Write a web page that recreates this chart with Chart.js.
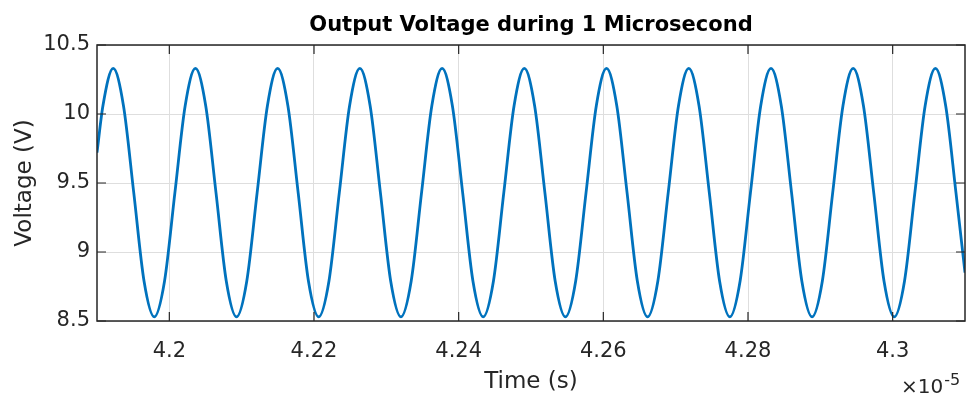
<!DOCTYPE html>
<html>
<head>
<meta charset="utf-8">
<title>Output Voltage</title>
<script src="https://cdn.jsdelivr.net/npm/chart.js@4"></script>
<style>
  html, body { margin: 0; padding: 0; background: #fff; }
  #wrap { width: 977px; height: 403px; }
</style>
</head>
<body>
<div id="wrap"><canvas id="voltChart" width="977" height="403"></canvas></div>
<script>
// time axis in units of 1e-5 s, samples every 1/8 of a period
const timeE5 = [
  4.19, 4.19082,
  4.19224, 4.19366, 4.19508, 4.19650, 4.19792, 4.19934, 4.20077, 4.20219,
  4.20361, 4.20503, 4.20645, 4.20787, 4.20929, 4.21071, 4.21214, 4.21356,
  4.21497, 4.21639, 4.21781, 4.21923, 4.22065, 4.22207, 4.22350, 4.22492,
  4.22634, 4.22776, 4.22918, 4.23060, 4.23202, 4.23344, 4.23487, 4.23629,
  4.23771, 4.23913, 4.24055, 4.24197, 4.24339, 4.24481, 4.24624, 4.24766,
  4.24908, 4.25050, 4.25192, 4.25334, 4.25476, 4.25618, 4.25761, 4.25903,
  4.26044, 4.26186, 4.26328, 4.26470, 4.26612, 4.26754, 4.26897, 4.27039,
  4.27181, 4.27323, 4.27465, 4.27607, 4.27749, 4.27891, 4.28034, 4.28176,
  4.28318, 4.28460, 4.28602, 4.28744, 4.28886, 4.29028, 4.29171, 4.29313,
  4.29454, 4.29596, 4.29738, 4.29880, 4.30022, 4.30164, 4.30307, 4.30449,
  4.30591, 4.30733, 4.30875, 4.31
];

// output voltage (V)
const voltage = [
  9.72, 10.06,
  10.33, 10.06, 9.43, 8.79, 8.53, 8.79, 9.43, 10.06,
  10.33, 10.06, 9.43, 8.79, 8.53, 8.79, 9.43, 10.06,
  10.33, 10.06, 9.43, 8.79, 8.53, 8.79, 9.43, 10.06,
  10.33, 10.06, 9.43, 8.79, 8.53, 8.79, 9.43, 10.06,
  10.33, 10.06, 9.43, 8.79, 8.53, 8.79, 9.43, 10.06,
  10.33, 10.06, 9.43, 8.79, 8.53, 8.79, 9.43, 10.06,
  10.33, 10.06, 9.43, 8.79, 8.53, 8.79, 9.43, 10.06,
  10.33, 10.06, 9.43, 8.79, 8.53, 8.79, 9.43, 10.06,
  10.33, 10.06, 9.43, 8.79, 8.53, 8.79, 9.43, 10.06,
  10.33, 10.06, 9.43, 8.79, 8.53, 8.79, 9.43, 10.06,
  10.33, 10.06, 9.43, 8.85
];

const xTicks = [4.2, 4.22, 4.24, 4.26, 4.28, 4.3];
const xTickLabels = ['4.2', '4.22', '4.24', '4.26', '4.28', '4.3'];
const yTicks = [8.5, 9, 9.5, 10, 10.5];
const yTickLabels = ['8.5', '9', '9.5', '10', '10.5'];

const FONT = 'DejaVu Sans';
const AXIS_COLOR = '#262626';

// box around the axes, inward ticks on all four sides, title and exponent
const matlabAxes = {
  id: 'matlabAxes',
  afterDraw(chart) {
    const { ctx, chartArea: a, scales } = chart;
    const tl = 9;
    ctx.save();
    ctx.strokeStyle = AXIS_COLOR;
    ctx.lineWidth = 1.5;
    ctx.strokeRect(a.left, a.top, a.right - a.left, a.bottom - a.top);

    ctx.lineWidth = 1.2;
    ctx.beginPath();
    xTicks.forEach(v => {
      const px = scales.x.getPixelForValue(v);
      ctx.moveTo(px, a.bottom); ctx.lineTo(px, a.bottom - tl);
      ctx.moveTo(px, a.top); ctx.lineTo(px, a.top + tl);
    });
    yTicks.forEach(v => {
      const py = scales.y.getPixelForValue(v);
      ctx.moveTo(a.left, py); ctx.lineTo(a.left + tl, py);
      ctx.moveTo(a.right, py); ctx.lineTo(a.right - tl, py);
    });
    ctx.stroke();

    // title
    ctx.fillStyle = '#000';
    ctx.font = 'bold 21px "' + FONT + '"';
    ctx.textAlign = 'center';
    ctx.textBaseline = 'alphabetic';
    ctx.fillText('Output Voltage during 1 Microsecond', (a.left + a.right) / 2, 31);

    // x exponent
    ctx.fillStyle = AXIS_COLOR;
    ctx.textAlign = 'left';
    ctx.font = '20px "' + FONT + '"';
    ctx.fillText('\u00d710', 901, 393);
    const w = ctx.measureText('\u00d710').width;
    ctx.font = '16px "' + FONT + '"';
    ctx.fillText('-5', 901 + w + 1, 385);
    ctx.restore();
  }
};

new Chart(document.getElementById('voltChart'), {
  type: 'line',
  data: {
    datasets: [{
      data: timeE5.map((t, i) => ({ x: t, y: voltage[i] })),
      borderColor: '#0072BD',
      borderWidth: 2.8,
      pointRadius: 0,
      cubicInterpolationMode: 'monotone',
      fill: false
    }]
  },
  options: {
    responsive: false,
    animation: false,
    layout: { padding: { top: 45, right: 12, left: 0, bottom: 0 } },
    plugins: {
      legend: { display: false },
      title: { display: false },
      tooltip: { enabled: false }
    },
    scales: {
      x: {
        type: 'linear',
        min: 4.19,
        max: 4.31,
        afterBuildTicks: scale => { scale.ticks = xTicks.map(v => ({ value: v })); },
        afterFit: scale => { scale.height = 82; },
        grid: { color: '#dedede', lineWidth: 1, drawTicks: false },
        border: { display: false },
        ticks: {
          padding: 18,
          color: AXIS_COLOR,
          font: { family: FONT, size: 21 },
          maxRotation: 0,
          autoSkip: false,
          callback: (value, index) => xTickLabels[index]
        },
        title: {
          display: true,
          text: 'Time (s)',
          color: AXIS_COLOR,
          font: { family: FONT, size: 23 },
          padding: { top: 0, bottom: 7 }
        }
      },
      y: {
        min: 8.5,
        max: 10.5,
        afterBuildTicks: scale => { scale.ticks = yTicks.map(v => ({ value: v })); },
        afterFit: scale => { scale.width = 97; },
        grid: { color: '#dedede', lineWidth: 1, drawTicks: false },
        border: { display: false },
        ticks: {
          padding: 7,
          color: AXIS_COLOR,
          font: { family: FONT, size: 21 },
          callback: (value, index) => yTickLabels[index]
        },
        title: {
          display: true,
          text: 'Voltage (V)',
          color: AXIS_COLOR,
          font: { family: FONT, size: 23 },
          padding: { top: 11, bottom: 0 }
        }
      }
    }
  },
  plugins: [matlabAxes]
});
</script>
</body>
</html>
